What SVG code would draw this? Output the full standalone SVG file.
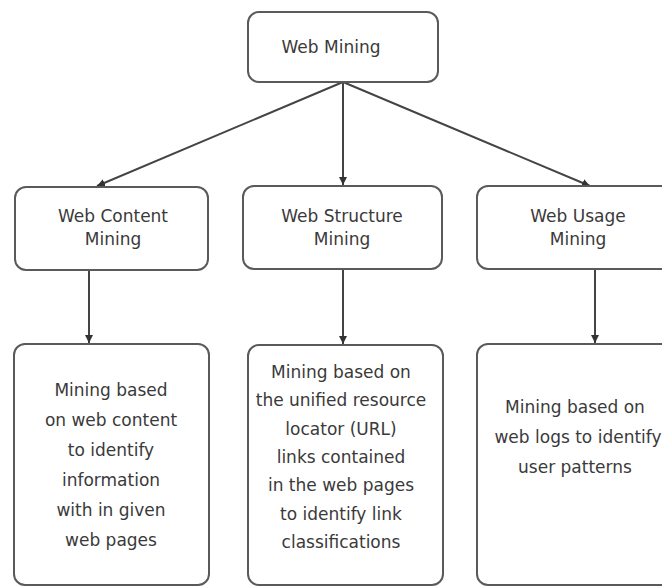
<svg xmlns="http://www.w3.org/2000/svg" width="662" height="587" viewBox="0 0 662 587">
  <defs>
    <marker id="arrow" markerWidth="9" markerHeight="9" refX="8" refY="4" orient="auto" markerUnits="userSpaceOnUse">
      <path d="M0,0 L8,4 L0,8 z" fill="#333"/>
    </marker>
    <style>
      .box { fill: #fff; stroke: #5a5a5a; stroke-width: 2; }
      .lbl { font-family: "DejaVu Sans", Verdana, sans-serif; font-size: 17px; fill: #3a3a3a; text-anchor: middle; }
      .edge { stroke: #444; stroke-width: 2; fill: none; marker-end: url(#arrow); }
    </style>
  </defs>
  <rect width="662" height="587" fill="#fff"/>

  <g id="connectors">
    <line class="edge" x1="343" y1="82" x2="97" y2="186"/>
    <line class="edge" x1="343" y1="82" x2="343" y2="185"/>
    <line class="edge" x1="343" y1="82" x2="590" y2="186"/>
    <line class="edge" x1="89" y1="270" x2="89" y2="343"/>
    <line class="edge" x1="343" y1="269" x2="343" y2="344"/>
    <line class="edge" x1="595" y1="269" x2="595" y2="343"/>
  </g>

  <g id="web-mining">
    <rect class="box" x="248" y="12" width="190" height="70" rx="11"/>
    <text class="lbl" x="331" y="53">Web Mining</text>
  </g>

  <g id="web-content-mining">
    <rect class="box" x="15" y="187" width="193" height="83" rx="11"/>
    <text class="lbl" x="113" y="222">Web Content</text>
    <text class="lbl" x="113" y="245">Mining</text>
  </g>

  <g id="web-structure-mining">
    <rect class="box" x="243" y="186" width="199" height="83" rx="11"/>
    <text class="lbl" x="342" y="222">Web Structure</text>
    <text class="lbl" x="342" y="245">Mining</text>
  </g>

  <g id="web-usage-mining">
    <rect class="box" x="477" y="186" width="202" height="83" rx="11"/>
    <text class="lbl" x="578" y="222">Web Usage</text>
    <text class="lbl" x="578" y="245">Mining</text>
  </g>

  <g id="content-desc">
    <rect class="box" x="14" y="344" width="195" height="241" rx="11"/>
    <text class="lbl" x="111" y="396">Mining based</text>
    <text class="lbl" x="111" y="426">on web content</text>
    <text class="lbl" x="111" y="456">to identify</text>
    <text class="lbl" x="111" y="486">information</text>
    <text class="lbl" x="111" y="516">with in given</text>
    <text class="lbl" x="111" y="546">web pages</text>
  </g>

  <g id="structure-desc">
    <rect class="box" x="248" y="345" width="195" height="240" rx="11"/>
    <text class="lbl" x="341" y="378">Mining based on</text>
    <text class="lbl" x="341" y="406">the unified resource</text>
    <text class="lbl" x="341" y="435">locator (URL)</text>
    <text class="lbl" x="341" y="463">links contained</text>
    <text class="lbl" x="341" y="491">in the web pages</text>
    <text class="lbl" x="341" y="520">to identify link</text>
    <text class="lbl" x="341" y="548">classifications</text>
  </g>

  <g id="usage-desc">
    <rect class="box" x="477" y="344" width="202" height="241" rx="11"/>
    <text class="lbl" x="575" y="413">Mining based on</text>
    <text class="lbl" x="578" y="443">web logs to identify</text>
    <text class="lbl" x="575" y="473">user patterns</text>
  </g>
</svg>
